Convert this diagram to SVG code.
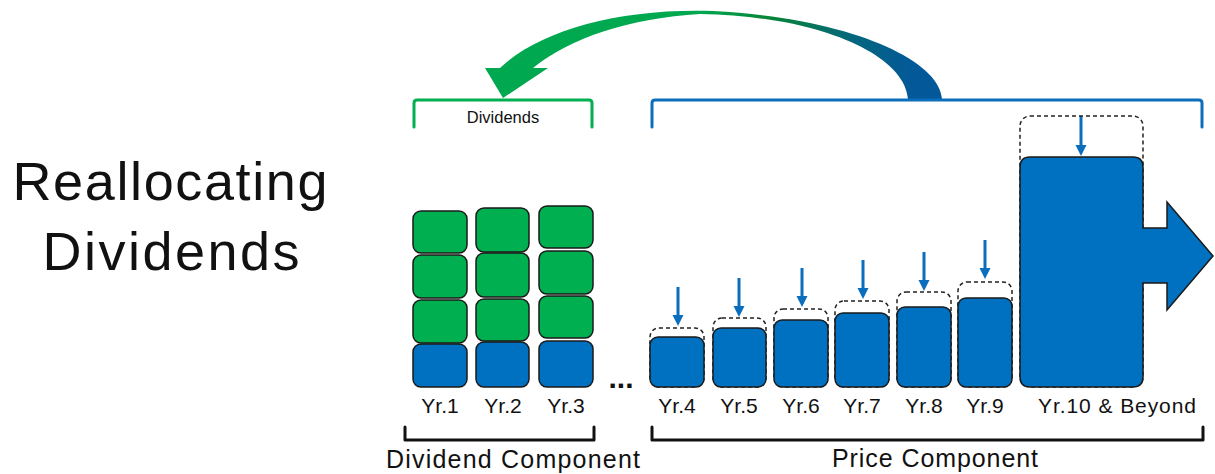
<svg xmlns="http://www.w3.org/2000/svg" width="1215" height="474" viewBox="0 0 1215 474">
<style>
text{font-family:"Liberation Sans",Arial,sans-serif;fill:#111}
.g{fill:#00B050;stroke:#1a1a1a;stroke-width:1.5}
.b{fill:#0070C0;stroke:#1a1a1a;stroke-width:1.5}
.d{fill:none;stroke:#222;stroke-width:1.5;stroke-dasharray:4 3}
.ar{stroke:#0A6EBD;stroke-width:3;fill:none;marker-end:url(#ah)}
.br{fill:none;stroke-width:3;stroke-linejoin:round;stroke-linecap:round}
.lbl{font-size:21px;text-anchor:middle}
</style>
<defs>
<marker id="ah" viewBox="0 0 10 10" refX="0" refY="5" markerWidth="11" markerHeight="12" markerUnits="userSpaceOnUse" orient="auto">
<path d="M0,0 L10,5 L0,10 Z" fill="#0A6EBD"/>
</marker>
<linearGradient id="cg" gradientUnits="userSpaceOnUse" x1="700" y1="0" x2="915" y2="0">
<stop offset="0" stop-color="#00A84F"/>
<stop offset="0.35" stop-color="#088239"/>
<stop offset="0.7" stop-color="#04677C"/>
<stop offset="1" stop-color="#03589A"/>
</linearGradient>
</defs>

<g id="title">
<text x="170" y="200" font-size="54" text-anchor="middle" textLength="315">Reallocating</text>
<text x="171" y="270" font-size="54" text-anchor="middle" textLength="257">Dividends</text>
</g>

<g id="connectors">
<path id="curved-arrow" fill="url(#cg)" d="M942,99 C940,60 850,18 713,11 C620,8 540,30 500,68 L485,68 L503,98 L548,68 L533,68 C570,38 630,18 700,14 C820,16 905,55 908,99 Z"/>
<g id="small-arrows">
<line class="ar" x1="678" y1="287" x2="678" y2="315"/>
<line class="ar" x1="739" y1="278" x2="739" y2="306"/>
<line class="ar" x1="802" y1="268" x2="802" y2="296"/>
<line class="ar" x1="863" y1="260" x2="863" y2="288"/>
<line class="ar" x1="924" y1="252" x2="924" y2="280"/>
<line class="ar" x1="985" y1="240" x2="985" y2="268"/>
<line class="ar" x1="1081" y1="116" x2="1081" y2="145"/>
</g>
</g>

<g id="bracket-dividends">
<path class="br" stroke="#00B050" d="M414,127 V103 Q414,100 417,100 H589 Q592,100 592,103 V127"/>
<text x="503" y="123" font-size="16.5" text-anchor="middle">Dividends</text>
</g>
<g id="bracket-price-top">
<path class="br" stroke="#0A6EBD" d="M652,127 V103 Q652,100 655,100 H1199 Q1202,100 1202,103 V127"/>
</g>

<g id="yr1">
<rect class="g" x="413" y="211" width="54" height="42" rx="8"/>
<rect class="g" x="413" y="255" width="54" height="43" rx="8"/>
<rect class="g" x="413" y="300" width="54" height="43" rx="8"/>
<rect class="b" x="413" y="344" width="54" height="43" rx="8"/>
<text class="lbl" x="440" y="413">Yr.1</text>
</g>
<g id="yr2">
<rect class="g" x="476" y="208" width="53" height="44" rx="8"/>
<rect class="g" x="476" y="253" width="53" height="44" rx="8"/>
<rect class="g" x="476" y="299" width="53" height="42" rx="8"/>
<rect class="b" x="476" y="342" width="53" height="45" rx="8"/>
<text class="lbl" x="503" y="413">Yr.2</text>
</g>
<g id="yr3">
<rect class="g" x="539" y="206" width="54" height="42" rx="8"/>
<rect class="g" x="539" y="251" width="54" height="43" rx="8"/>
<rect class="g" x="539" y="296" width="54" height="42" rx="8"/>
<rect class="b" x="539" y="341" width="54" height="46" rx="8"/>
<text class="lbl" x="566" y="413">Yr.3</text>
</g>

<g id="ellipsis">
<text x="621" y="388" font-size="30" font-weight="bold" text-anchor="middle">...</text>
</g>

<g id="yr4">
<rect class="d" x="650" y="328" width="54" height="59" rx="9"/>
<rect class="b" x="650" y="337" width="54" height="50" rx="8"/>
<text class="lbl" x="677" y="413">Yr.4</text>
</g>
<g id="yr5">
<rect class="d" x="713" y="318" width="53" height="69" rx="9"/>
<rect class="b" x="713" y="328" width="53" height="59" rx="8"/>
<text class="lbl" x="739" y="413">Yr.5</text>
</g>
<g id="yr6">
<rect class="d" x="774" y="309" width="54" height="78" rx="9"/>
<rect class="b" x="774" y="320" width="54" height="67" rx="8"/>
<text class="lbl" x="801" y="413">Yr.6</text>
</g>
<g id="yr7">
<rect class="d" x="835" y="301" width="54" height="86" rx="9"/>
<rect class="b" x="835" y="313" width="54" height="74" rx="8"/>
<text class="lbl" x="862" y="413">Yr.7</text>
</g>
<g id="yr8">
<rect class="d" x="897" y="292" width="54" height="95" rx="9"/>
<rect class="b" x="897" y="307" width="54" height="80" rx="8"/>
<text class="lbl" x="924" y="413">Yr.8</text>
</g>
<g id="yr9">
<rect class="d" x="958" y="282" width="54" height="105" rx="9"/>
<rect class="b" x="958" y="298" width="54" height="89" rx="8"/>
<text class="lbl" x="985" y="413">Yr.9</text>
</g>
<g id="yr10">
<rect class="d" x="1020" y="116" width="123" height="271" rx="10"/>
<path class="b" d="M1030,157 H1133 Q1143,157 1143,167 V228 H1167 V202 L1213,256 L1167,310 V283 H1143 V377 Q1143,387 1133,387 H1030 Q1020,387 1020,377 V167 Q1020,157 1030,157 Z"/>
<text class="lbl" x="1117" y="413" textLength="158">Yr.10 &amp; Beyond</text>
</g>

<g id="dividend-component">
<path class="br" stroke="#111" d="M405,427 V440 H594 V427"/>
<text x="513" y="468" font-size="25" text-anchor="middle" textLength="254">Dividend Component</text>
</g>
<g id="price-component">
<path class="br" stroke="#111" d="M652,427 V440 H1203 V427"/>
<text x="935" y="467" font-size="25" text-anchor="middle" textLength="206">Price Component</text>
</g>
</svg>
